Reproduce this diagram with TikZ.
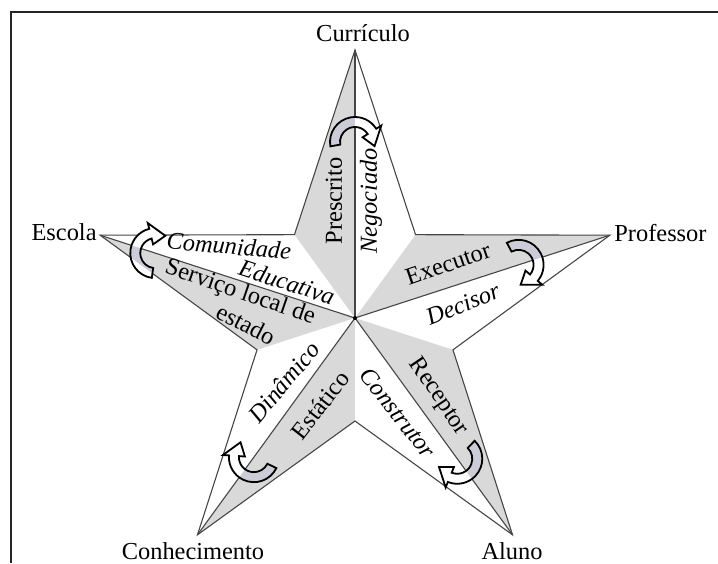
\documentclass[tikz,border=0pt]{standalone}
\usepackage{fontspec}
\setmainfont{Liberation Serif}
\definecolor{StarGray} {RGB}{217,217,217}
\definecolor{ArrowGray}{RGB}{204,204,216}
\definecolor{EdgeGray} {RGB}{70,70,70}
\usetikzlibrary{calc}

% curved block arrow, drawn around the origin and bulging towards +y
\newcommand{\turnpath}{(190:25) arc[start angle=190,end angle=32,radius=25]
  -- (32:31) -- (-12:20) -- (32:9) -- (32:15)
  arc[start angle=32,end angle=190,radius=15] -- cycle}
% #1 angle of the point, #2 distance from the centre, #3 tip, #4 inner corner
\newcommand{\swaparrow}[4]{%
  \fill[white,shift={(#1:#2)},rotate=#1-90] \turnpath;
  \begin{scope}
    \clip (O) -- (#3) -- (#4) -- cycle;
    \fill[ArrowGray,shift={(#1:#2)},rotate=#1-90] \turnpath;
  \end{scope}
  \draw[line width=0.9pt,shift={(#1:#2)},rotate=#1-90] \turnpath;}

\begin{document}
\begin{tikzpicture}[x=0.5pt,y=0.5pt,
    starline/.style={line width=0.55pt,draw=EdgeGray},
    lbl/.style={inner sep=0.5pt,font=\fontsize{12.2}{14}\selectfont},
    lbli/.style={inner sep=0.5pt,font=\fontsize{12.2}{14}\selectfont\itshape}]
  \useasboundingbox (-355,-245) rectangle (363,318);
  % Frame (cut by the page on the right and at the bottom)
  \draw[line width=1pt,black!85] (-344,-245) |- (363,306);
  % Centre, tips and inner corners
  \coordinate (O) at (0,0);
  \coordinate (tcur) at (90:268);
  \coordinate (tpro) at (18:268);
  \coordinate (talu) at (-54:268);
  \coordinate (tcon) at (-126:268);
  \coordinate (tesc) at (162:268);
  \coordinate (iul) at (126:103);
  \coordinate (iur) at (54:103);
  \coordinate (ilr) at (-18:103);
  \coordinate (ibo) at (-90:103);
  \coordinate (ill) at (198:103);
  % Shaded halves
  \fill[StarGray] (O) -- (tcur) -- (iul) -- cycle;
  \fill[StarGray] (O) -- (tpro) -- (iur) -- cycle;
  \fill[StarGray] (O) -- (talu) -- (ilr) -- cycle;
  \fill[StarGray] (O) -- (tcon) -- (ibo) -- cycle;
  \fill[StarGray] (O) -- (tesc) -- (ill) -- cycle;
  % Outline and spines
  \draw[starline] (tcur) -- (iul) -- (tesc) -- (ill) -- (tcon) -- (ibo)
    -- (talu) -- (ilr) -- (tpro) -- (iur) -- cycle;
  \foreach \t in {tcur,tpro,talu,tcon,tesc}
    \draw[starline] (O) -- (\t);
  \fill (O) circle (2);
  % Turning arrows
  \swaparrow{90}{176}{tcur}{iul}
  \swaparrow{18}{172}{tpro}{iur}
  \swaparrow{-54}{174}{talu}{ilr}
  \swaparrow{-126}{172}{tcon}{ibo}
  \swaparrow{162}{210}{tesc}{ill}
  % Point names
  \node[lbl,anchor=base] (curriculo) at (8,277) {Currículo};
  \node[lbl,anchor=base west] (professor) at (258,77) {Professor};
  \node[lbl,anchor=base east] (escola) at (-257,78) {Escola};
  \node[lbl,anchor=base] (conhecimento) at (-162,-241) {Conhecimento};
  \node[lbl,anchor=base] (aluno) at (157,-241) {Aluno};
  % Halves
  \node[lbl,rotate=90] (prescrito) at (-21,117) {Prescrito};
  \node[lbli,rotate=90] (negociado) at (16,117) {Negociado};
  \node[lbl,rotate=19] (executor) at (93,54) {Executor};
  \node[lbli,rotate=22] (decisor) at (108,14) {Decisor};
  \node[lbl,rotate=-56] (receptor) at (83,-79) {Receptor};
  \node[lbli,rotate=-52] (construtor) at (43,-95) {Construtor};
  \node[lbl,rotate=52] (estatico) at (-35,-87) {Estático};
  \node[lbli,rotate=50] (dinamico) at (-71,-64) {Dinâmico};
  \node[lbli,rotate=-5] (comunidade) at (-126,72) {Comunidade};
  \node[lbli,rotate=-18] (educativa) at (-68,36) {Educativa};
  \node[lbl,rotate=-19] (servico) at (-115,25) {Serviço local de};
  \node[lbl,rotate=-27] (estado) at (-109,-6) {estado};
\end{tikzpicture}
\end{document}
